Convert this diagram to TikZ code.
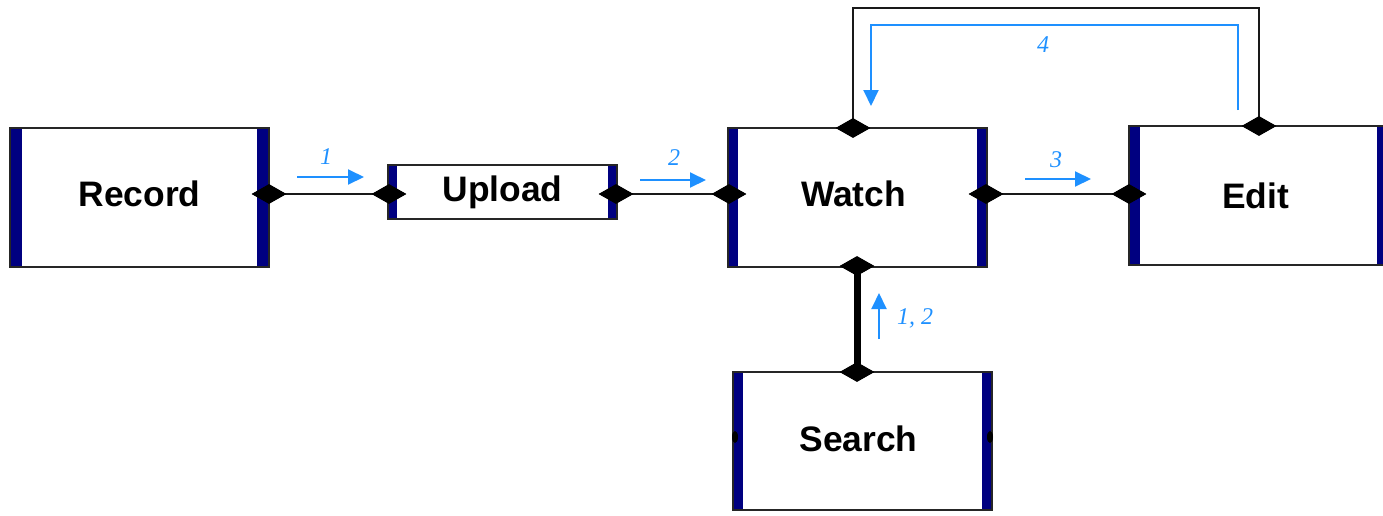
\documentclass[tikz,border=0pt]{standalone}
\usepackage{fontspec}
\setmainfont{Liberation Sans}
\newfontfamily\labfont{Liberation Serif}
\usetikzlibrary{shapes.geometric,arrows.meta}
\definecolor{barnavy}{RGB}{0,0,128}
\definecolor{flowblue}{RGB}{30,144,255}
\begin{document}
\begin{tikzpicture}[x=0.5pt,y=-0.5pt,
  blockbox/.style={draw=black!85, line width=0.8pt, fill=white, inner sep=0pt,
    font=\fontsize{17.7}{20}\selectfont\bfseries,
    path picture={
      \fill[barnavy] (path picture bounding box.south west) rectangle ([xshift=#1]path picture bounding box.north west);
      \fill[barnavy] (path picture bounding box.south east) rectangle ([xshift=-#1]path picture bounding box.north east);}},
  blockbox/.default=5pt,
  jdot/.style={diamond, fill=black, inner sep=0pt, minimum width=17pt, minimum height=9.5pt},
  smalldot/.style={ellipse, fill=black, inner sep=0pt, minimum width=3pt, minimum height=6pt},
  conn/.style={draw=black!90, line width=0.9pt},
  flow/.style={draw=flowblue, line width=1pt, -{Triangle[length=8pt,width=7.5pt]}},
  flab/.style={text=flowblue, font=\labfont\itshape\fontsize{12}{14}\selectfont, inner sep=0pt}
]
\useasboundingbox (0,0) rectangle (1383,515);

% boxes
\node[blockbox=6pt, minimum width=129.5pt, minimum height=69.5pt, text depth=4pt] (rec) at (139.5,197.5) {Record};
\node[blockbox=4.5pt, minimum width=114.5pt, minimum height=27pt] (upl) at (502.5,192) {Upload};
\node[blockbox=5pt, minimum width=129.5pt, minimum height=69.5pt, text depth=4pt] (wat) at (857.5,197.5) {Watch\kern4pt};
\node[blockbox=5.5pt, minimum width=129.5pt, minimum height=69.5pt] (edi) at (1258.5,195.5) {Edit\kern3pt};
\node[blockbox=5pt, minimum width=129.5pt, minimum height=69pt, text depth=2.5pt] (sea) at (862.5,441) {Search\kern4pt};

% connector end points
\node[jdot] (drr) at (269,194) {};
\node[jdot] (dul) at (389,194) {};
\node[jdot] (dur) at (616,194) {};
\node[jdot] (dwl) at (729,194) {};
\node[jdot] (dwr) at (986,194) {};
\node[jdot] (del) at (1129,194) {};
\node[jdot] (dwt) at (853,128) {};
\node[jdot] (det) at (1259,126) {};
\node[jdot] (dwb) at (857,266) {};
\node[jdot] (dst) at (857,372) {};
\node[smalldot] (dsl) at (735,437) {};
\node[smalldot] (dsr) at (990,437) {};

% connectors
\coordinate (looptop) at (1050,8);
\draw[conn] (drr.center) -- (dul.center);
\draw[conn] (dur.center) -- (dwl.center);
\draw[conn] (dwr.center) -- (del.center);
\draw[conn] (dwt.center) |- (looptop) -| (det.center);
\draw[line width=3.5pt] (dwb.center) -- (dst.center);

% redraw diamonds on top
\foreach \d in {drr,dul,dur,dwl,dwr,del,dwt,det,dwb,dst}
  \fill[black] (\d.north) -- (\d.east) -- (\d.south) -- (\d.west) -- cycle;

% blue flow arrows
\coordinate (a1s) at (297,177); \coordinate (a1e) at (364,177);
\coordinate (a2s) at (640,180); \coordinate (a2e) at (706,180);
\coordinate (a3s) at (1025,179); \coordinate (a3e) at (1091,179);
\coordinate (a4s) at (1238,110); \coordinate (a4top) at (1050,25); \coordinate (a4e) at (871,106);
\coordinate (a5s) at (879,339); \coordinate (a5e) at (879,293);
\draw[flow] (a1s) -- (a1e);
\draw[flow] (a2s) -- (a2e);
\draw[flow] (a3s) -- (a3e);
\draw[flow] (a4s) |- (a4top) -| (a4e);
\draw[flow] (a5s) -- (a5e);

\node[flab] (l1) at (326,157) {1};
\node[flab] (l2) at (674,158) {2};
\node[flab] (l3) at (1056,160) {3};
\node[flab] (l4) at (1043,45) {4};
\node[flab] (l5) at (915,318) {1, 2};
\end{tikzpicture}
\end{document}
